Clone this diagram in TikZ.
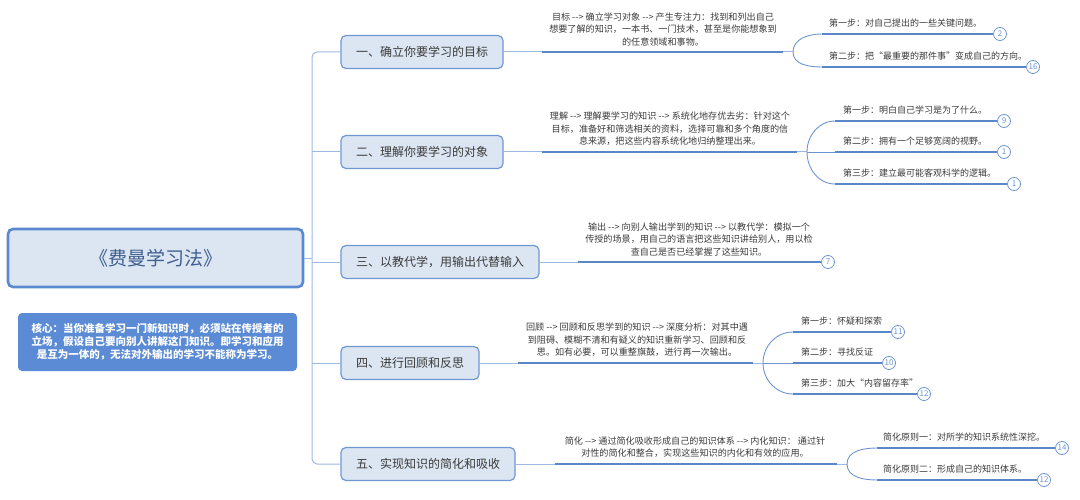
\documentclass[tikz,border=0pt]{standalone}
\usepackage{fontspec}
\setmainfont{Noto Sans CJK SC}
\definecolor{boxfill}{HTML}{DCE6F2}
\definecolor{boxdraw}{HTML}{6F97D3}
\definecolor{rootdraw}{HTML}{5A89D0}
\definecolor{roottext}{HTML}{3E5E8E}
\definecolor{corefill}{HTML}{5B8BD5}
\definecolor{ulcol}{HTML}{5A87C8}
\definecolor{thincol}{HTML}{9DB8E2}
\definecolor{brcol}{HTML}{6E95D2}
\definecolor{txt}{HTML}{3A3A3A}
\newcommand\myarr{-{}->}
\begin{document}
\begin{tikzpicture}[x=1pt,y=-1pt,
  rootbox/.style={draw=rootdraw, fill=boxfill, line width=2.6pt, rounded corners=5pt, minimum width=295pt, minimum height=58pt, inner sep=0pt, font=\fontsize{19}{22}\selectfont, text=roottext},
  corebox/.style={fill=corefill, rounded corners=4pt, minimum width=279pt, minimum height=58pt, inner sep=0pt, font=\fontsize{10.5}{13}\selectfont\bfseries, text=white, align=center},
  branchbox/.style={draw=boxdraw, fill=boxfill, line width=1.2pt, rounded corners=5pt, minimum height=33pt, inner sep=0pt, font=\fontsize{12}{14}\selectfont, text=txt},
  desc/.style={font=\fontsize{9.1}{12.5}\selectfont, text=txt, align=center, inner sep=0pt, anchor=south},
  childtext/.style={font=\fontsize{9}{11}\selectfont, text=txt, inner sep=0pt, anchor=base west},
  numc/.style={circle, draw=brcol, fill=white, line width=0.8pt, minimum size=13pt, inner sep=0pt, font=\fontsize{8}{8}\selectfont, text=brcol},
  trunk/.style={draw=thincol, line width=1pt, rounded corners=5pt},
  thinline/.style={draw=thincol, line width=1pt},
  underl/.style={draw=ulcol, line width=2.6pt},
  brace/.style={draw=brcol, line width=0.9pt}
]
\useasboundingbox (0,0) rectangle (1080,500);

% root and core
\node[rootbox] (root) at (155.5,258) {《费曼学习法》};
\node[corebox] (core) at (157.5,342) {核心：当你准备学习一门新知识时，必须站在传授者的\\立场，假设自己要向别人讲解这门知识。即学习和应用\\是互为一体的，无法对外输出的学习不能称为学习。};

% branch boxes
\node[branchbox, minimum width=162pt] (b1) at (422,52) {一、确立你要学习的目标};
\node[branchbox, minimum width=162pt] (b2) at (422,152) {二、理解你要学习的对象};
\node[branchbox, minimum width=198pt] (b3) at (440,262) {三、以教代学，用输出代替输入};
\node[branchbox, minimum width=138pt] (b4) at (410,363) {四、进行回顾和反思};
\node[branchbox, minimum width=174pt] (b5) at (428,464) {五、实现知识的简化和吸收};

% trunk
\coordinate (tk) at (312,258);
\draw[thinline] (root.east) -- (tk);
\draw[trunk] (b1.west) -| (tk) |- (b5.west);
\draw[thinline] (b2.west) -- (b2.west -| tk);
\draw[thinline] (b3.west) -- (b3.west -| tk);
\draw[thinline] (b4.west) -- (b4.west -| tk);

% ---------- group 1
\coordinate (u1s) at (542,52); \coordinate (u1e) at (783,52); \coordinate (f1) at (793,52);
\coordinate (c11) at (822,34); \coordinate (c12) at (822,67);
\node[desc] (d1) at (663,46) {目标 \myarr{} 确立学习对象 \myarr{} 产生专注力：找到和列出自己\\想要了解的知识，一本书、一门技术，甚至是你能想象到\\的任意领域和事物。};
\draw[thinline] (b1.east) -- (u1s);
\draw[underl] (u1s) -- (u1e);
\draw[thinline] (u1e) -- (f1);
\draw[brace] (f1) to[out=90,in=180] (c11);
\draw[brace] (f1) to[out=-90,in=180] (c12);
\node[numc] (n11) at (1000,34) {2};
\node[numc] (n12) at (1033,67) {16};
\draw[underl] (c11) -- (n11.west);
\draw[underl] (c12) -- (n12.west);
\node[childtext] (t11) at (829,26.5) {第一步：对自己提出的一些关键问题。};
\node[childtext] (t12) at (829,59.5) {第二步：把“最重要的那件事”变成自己的方向。};

% ---------- group 2
\coordinate (u2s) at (542,152); \coordinate (u2e) at (797,152); \coordinate (f2) at (807,152);
\coordinate (c21) at (835,121); \coordinate (c22) at (835,152); \coordinate (c23) at (835,184);
\node[desc] (d2) at (670,146) {理解 \myarr{} 理解要学习的知识 \myarr{} 系统化地存优去劣：针对这个\\目标，准备好和筛选相关的资料，选择可靠和多个角度的信\\息来源，把这些内容系统化地归纳整理出来。};
\draw[thinline] (b2.east) -- (u2s);
\draw[underl] (u2s) -- (u2e);
\draw[thinline] (u2e) -- (f2);
\draw[brace] (f2) to[out=90,in=180] (c21);
\draw[brace] (f2) -- (c22);
\draw[brace] (f2) to[out=-90,in=180] (c23);
\node[numc] (n21) at (1004,121) {9};
\node[numc] (n22) at (1004,152) {1};
\node[numc] (n23) at (1014,184) {1};
\draw[underl] (c21) -- (n21.west);
\draw[underl] (c22) -- (n22.west);
\draw[underl] (c23) -- (n23.west);
\node[childtext] (t21) at (843,113.5) {第一步：明白自己学习是为了什么。};
\node[childtext] (t22) at (843,144.5) {第二步：拥有一个足够宽阔的视野。};
\node[childtext] (t23) at (843,176.5) {第三步：建立最可能客观科学的逻辑。};

% ---------- group 3
\coordinate (u3s) at (578,262);
\node[desc] (d3) at (699,256) {输出 \myarr{} 向别人输出学到的知识 \myarr{} 以教代学：模拟一个\\传授的场景，用自己的语言把这些知识讲给别人，用以检\\查自己是否已经掌握了这些知识。};
\node[numc] (n3) at (828,262) {7};
\draw[thinline] (b3.east) -- (u3s);
\draw[underl] (u3s) -- (n3.west);

% ---------- group 4
\coordinate (u4s) at (518,363); \coordinate (u4e) at (753,363); \coordinate (f4) at (763,363);
\coordinate (c41) at (793,332); \coordinate (c42) at (793,363); \coordinate (c43) at (793,394);
\node[desc] (d4) at (637,357) {回顾 \myarr{} 回顾和反思学到的知识 \myarr{} 深度分析：对其中遇\\到阻碍、模糊不清和有疑义的知识重新学习、回顾和反\\思。如有必要，可以重整旗鼓，进行再一次输出。};
\draw[thinline] (b4.east) -- (u4s);
\draw[underl] (u4s) -- (u4e);
\draw[thinline] (u4e) -- (f4);
\draw[brace] (f4) to[out=90,in=180] (c41);
\draw[brace] (f4) -- (c42);
\draw[brace] (f4) to[out=-90,in=180] (c43);
\node[numc] (n41) at (898,332) {11};
\node[numc] (n42) at (889,363) {10};
\node[numc] (n43) at (924,394) {12};
\draw[underl] (c41) -- (n41.west);
\draw[underl] (c42) -- (n42.west);
\draw[underl] (c43) -- (n43.west);
\node[childtext] (t41) at (801,324.5) {第一步：怀疑和探索};
\node[childtext] (t42) at (801,355.5) {第二步：寻找反证};
\node[childtext] (t43) at (801,386.5) {第三步：加大“内容留存率”};

% ---------- group 5
\coordinate (u5s) at (555,464); \coordinate (u5e) at (837,464); \coordinate (f5) at (847,464);
\coordinate (c51) at (877,448); \coordinate (c52) at (877,480);
\node[desc] (d5) at (695,458) {简化 \myarr{} 通过简化吸收形成自己的知识体系 \myarr{} 内化知识： 通过针\\对性的简化和整合，实现这些知识的内化和有效的应用。};
\draw[thinline] (b5.east) -- (u5s);
\draw[underl] (u5s) -- (u5e);
\draw[thinline] (u5e) -- (f5);
\draw[brace] (f5) to[out=90,in=180] (c51);
\draw[brace] (f5) to[out=-90,in=180] (c52);
\node[numc] (n51) at (1062,448) {14};
\node[numc] (n52) at (1044,480) {12};
\draw[underl] (c51) -- (n51.west);
\draw[underl] (c52) -- (n52.west);
\node[childtext] (t51) at (883,440.5) {简化原则一：对所学的知识系统性深挖。};
\node[childtext] (t52) at (883,472.5) {简化原则二：形成自己的知识体系。};
\end{tikzpicture}
\end{document}
